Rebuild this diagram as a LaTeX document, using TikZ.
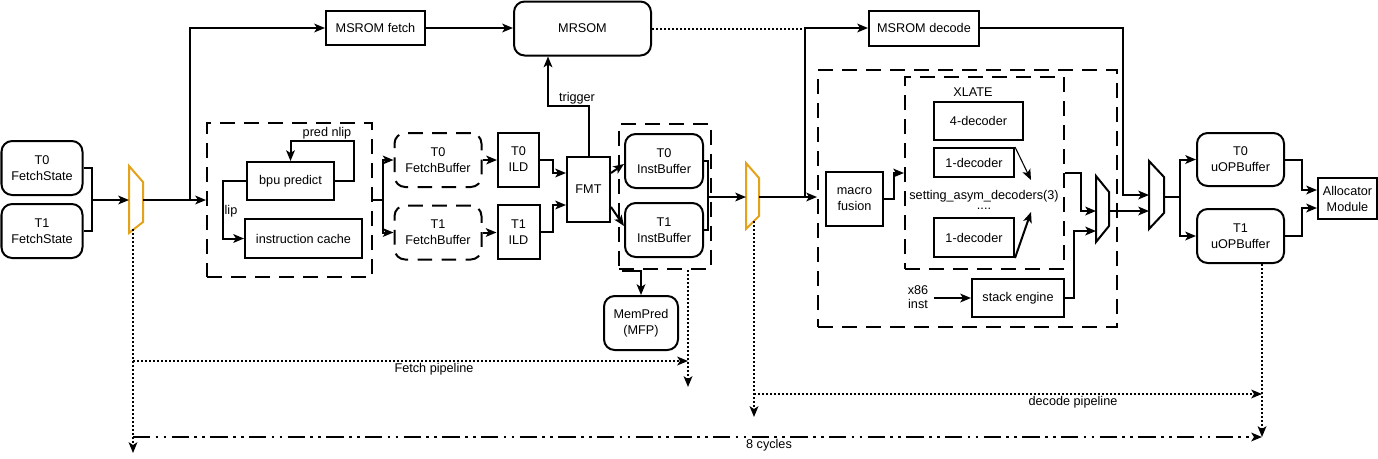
\documentclass[tikz,border=0pt]{standalone}
\usepackage{fontspec}
\setmainfont{Liberation Sans}
\usetikzlibrary{arrows.meta}
\definecolor{muxorange}{HTML}{E3A21A}

\begin{document}
\begin{tikzpicture}[x = 0.75pt, y = -0.75pt, line width = 1.5pt,
		font = \fontsize{9.5}{12}\selectfont,
		sz/.style 2 args = {minimum width = #1*0.75pt, minimum height = #2*0.75pt},
		box/.style = {draw, inner sep = 0pt, align = center},
		rbox/.style = {box, rounded corners = 8pt},
		dbox/.style = {box, dash pattern = on 11pt off 7pt},
		arr/.style = {-{Stealth[length = 8pt, width = 6.5pt, inset = 2pt]}},
		pipe/.style = {dash pattern = on 1.5pt off 1.5pt},
		cycles/.style = {dash pattern = on 13pt off 4pt on 2pt off 4pt on 2pt off 4pt}]
	\def\xMAX{1378}
	\def\yMAX{458}
	\useasboundingbox (0,0) rectangle (\xMAX,\yMAX);

	% fetch side
	\begin{scope}
		\node[rbox, sz={81}{54}] (t0fs) at (42,168) {T0\\FetchState};
		\node[rbox, sz={81}{54}] (t1fs) at (42,231) {T1\\FetchState};
		\node[dbox, sz={165}{154}] (fetchgrp) at (289.5,200) {};
		\node[box, sz={87}{38}] (bpu) at (290.5,181) {bpu predict};
		\node[box, sz={117}{39}] (icache) at (303.5,238.5) {instruction cache};
		\node (nlip) at (327,133) {pred nlip};
		\node (lip) at (231,211) {lip};
		\node[dbox, rounded corners = 8pt, sz={87}{54}] (t0fb) at (438,160) {T0\\FetchBuffer};
		\node[dbox, rounded corners = 8pt, sz={87}{54}] (t1fb) at (438,232.5) {T1\\FetchBuffer};
		\node[box, sz={41}{54}] (t0ild) at (518.5,159.5) {T0\\ILD};
		\node[box, sz={42}{54}] (t1ild) at (518.5,232) {T1\\ILD};
		\node[box, sz={43}{65}] (fmt) at (588.5,189.5) {FMT};
		\node[dbox, sz={92}{145}] (instgrp) at (665,196.5) {};
		\node[rbox, sz={78}{54}] (t0ib) at (664,161) {T0\\InstBuffer};
		\node[rbox, sz={78}{54}] (t1ib) at (664,230) {T1\\InstBuffer};
		\node[rbox, sz={74}{54}] (mempred) at (641,323) {MemPred\\(MFP)};
		\node[box, sz={99}{34}] (msfetch) at (375.5,28) {MSROM fetch};
		\node[rbox, sz={137}{54}] (mrsom) at (582.5,28.5) {MRSOM};
		\node (trig) at (577,98) {trigger};
	\end{scope}

	% decode side
	\begin{scope}
		\node[box, sz={110}{35}] (msdecode) at (924,28) {MSROM decode};
		\node[dbox, sz={299}{257}] (decgrp) at (967.5,198.5) {};
		\node[dbox, sz={159}{192}] (xlate) at (984.5,173) {};
		\node (xlatelbl) at (973,92) {XLATE};
		\node[box, sz={89}{38}] (dec4) at (978.5,121) {4-decoder};
		\node[box, sz={80}{29}] (dec1a) at (974,162.5) {1-decoder};
		\node[box, sz={80}{39}] (dec1b) at (974,237.5) {1-decoder};
		\node[inner sep = 0pt] (asym) at (984,196) {setting\_asym\_decoders(3)};
		\node[inner sep = 0pt] (dots) at (984,209) {....};
		\node[box, sz={57}{54}] (macro) at (854.5,199) {macro\\fusion};
		\node[box, sz={92}{38}] (stack) at (1018,298) {stack engine};
		\node[align = center, font = \fontsize{9.5}{10}\selectfont] (x86) at (918,297) {x86\\inst};
		\node[rbox, sz={87}{53}] (t0uop) at (1240.5,159.5) {T0\\uOPBuffer};
		\node[rbox, sz={87}{54}] (t1uop) at (1240.5,236) {T1\\uOPBuffer};
		\node[box, sz={59}{41}] (alloc) at (1347.5,198.5) {Allocator\\Module};
		\node (fetchlbl) at (434,369) {Fetch pipeline};
		\node (declbl) at (1073,402) {decode pipeline};
		\node (cyclbl) at (769,445) {8 cycles};
	\end{scope}

	% muxes
	\begin{scope}[line join = miter]
		\draw[muxorange] (129,166) -- (143,182) -- (143,222) -- (129,233) -- cycle;
		\draw[muxorange] (746,163) -- (759,178) -- (759,216) -- (746,229) -- cycle;
		\draw (1096,176) -- (1109,192) -- (1109,226) -- (1096,242) -- cycle;
		\draw (1149,161) -- (1164,177) -- (1164,213) -- (1149,229) -- cycle;
		\coordinate (mux1in) at (129,200);
		\coordinate (mux1out) at (143,200);
		\coordinate (mux1bot) at (133,229);
		\coordinate (mux2in) at (746,197);
		\coordinate (mux2out) at (759,197);
		\coordinate (mux2bot) at (754,221);
		\coordinate (mux3in1) at (1096,211);
		\coordinate (mux3in2) at (1096,231);
		\coordinate (mux3out) at (1109,211);
		\coordinate (mux4in1) at (1149,195);
		\coordinate (mux4in2) at (1149,211);
		\coordinate (mux4out) at (1164,197);
	\end{scope}

	\coordinate (fsjoin) at (92,200);
	\coordinate (upfork) at (190,200);
	\coordinate (fbfork) at (383,200);
	\coordinate (ibjoin) at (708,197);
	\coordinate (mpfrom) at (622,271);
	\coordinate (decfork) at (805,197);
	\coordinate (asym1) at (1031,180);
	\coordinate (asym2) at (1031,212);
	\coordinate (uopfork) at (1180,197);

	\begin{scope}
		\draw (t0fs.east) -| (fsjoin);
		\draw (t1fs.east) -| (fsjoin);
		\draw (fetchgrp.east) -- (fbfork);
		\draw (t0ib.east) -| (ibjoin);
		\draw (t1ib.east) -| (ibjoin);
		\draw (mux2out) -- (decfork);
		\draw (mux4out) -- (uopfork);
		\draw[pipe] (mrsom.east) -- (decfork |- mrsom.east);
	\end{scope}

	\begin{scope}[arr]
		\draw (fsjoin) -- (mux1in);
		\draw (mux1out) -- (fetchgrp.west);
		\draw (upfork) |- (msfetch.west);
		\draw (msfetch.east) -- (mrsom.west |- msfetch.east);
		\draw (bpu.east) -| (354,141) -| (bpu.north);
		\draw (bpu.west) -- ++(-23,0) |- (icache.west);
		\draw (fbfork) |- (t0fb.west);
		\draw (fbfork) |- (t1fb.west);
		\draw (t0fb.east) -- (t0fb.east -| t0ild.west);
		\draw (t1fb.east) -- (t1fb.east -| t1ild.west);
		\draw (t0ild.east) -| (553,173) -- (fmt.west |- 553,173);
		\draw (t1ild.east) -| (553,205) -- (fmt.west |- 553,205);
		\draw (fmt.north) |- (548,106) -- (mrsom.south -| 548,0);
		\draw (fmt.east |- 0,173) -- (t0ib.west |- 0,164);
		\draw (fmt.east |- 0,207) -- (t1ib.west |- 0,226);
		\draw (ibjoin) -- (mux2in);
		\draw (mpfrom) -| (mempred.north);
		\draw (decfork) -- (decfork -| decgrp.west);
		\draw (decfork) |- (msdecode.west);
		\draw (macro.east) -- ++(10,0) |- (xlate.west |- 0,173);
		\draw[line width = 0.8pt] (dec1a.north east) -- (asym1);
		\draw (dec1b.south east) -- (asym2);
		\draw (xlate.east |- 0,173) -- ++(16,0) |- (mux3in1);
		\draw (x86.east |- stack.west) -- (stack.west);
		\draw (stack.east) -- ++(9,0) |- (mux3in2);
		\draw (mux3out) -- (mux4in2);
		\draw (msdecode.east) -| (1123,195) -- (mux4in1);
		\draw (uopfork) |- (t0uop.west);
		\draw (uopfork) |- (t1uop.west);
		\draw (t0uop.east) -| (1302,190) -- (alloc.west |- 0,190);
		\draw (t1uop.east) -| (1302,208) -- (alloc.west |- 0,208);
	\end{scope}

	% pipelines
	\begin{scope}[arr]
		\draw[pipe] (mux1bot) -- (133,453);
		\draw[pipe] (133,361) -- (688,361);
		\draw[pipe] (instgrp.south -| 688,0) -- (688,387);
		\draw[pipe] (mux2bot) -- (754,417);
		\draw[pipe] (754,394) -- (1262,394);
		\draw[pipe] (t1uop.south -| 1262,0) -- (1262,437);
		\draw[cycles] (133,437) -- (1262,437);
	\end{scope}
\end{tikzpicture}
\end{document}
